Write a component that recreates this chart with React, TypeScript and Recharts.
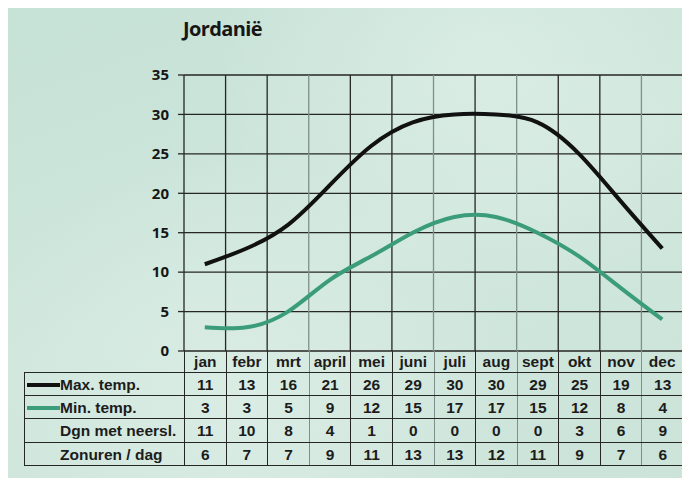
import React from 'react';
import { LineChart, Line, XAxis, YAxis, CartesianGrid, ReferenceLine } from 'recharts';

const title = 'Jordanië';
const months = ['jan', 'febr', 'mrt', 'april', 'mei', 'juni', 'juli', 'aug', 'sept', 'okt', 'nov', 'dec'];
const maxTemp = [11, 13, 16, 21, 26, 29, 30, 30, 29, 25, 19, 13];
const minTemp = [3, 3, 5, 9, 12, 15, 17, 17, 15, 12, 8, 4];
const rainDays = [11, 10, 8, 4, 1, 0, 0, 0, 0, 3, 6, 9];
const sunHours = [6, 7, 7, 9, 11, 13, 13, 12, 11, 9, 7, 6];
const yTicks = [0, 5, 10, 15, 20, 25, 30, 35];

const rowLabels = ['Max. temp.', 'Min. temp.', 'Dgn met neersl.', 'Zonuren / dag'];
const rowValues = [maxTemp, minTemp, rainDays, sunHours];

const BLACK = '#111111';
const GREEN = '#3b9c7c';
const GRID = '#262626';
const THIN = '#7f8f89';
const thinBoundaries = [3, 6, 8, 11];
const legendColors = [BLACK, GREEN, null, null];

const data = months.map((m, i) => ({ month: m, pos: i + 0.5, max: maxTemp[i], min: minTemp[i] }));
const boundaries = Array.from({ length: months.length + 1 }, (_, i) => i);

const W = 682;
const H = 470;
const PLOT_LEFT = 176;
const PLOT_RIGHT = 675;
const PLOT_TOP = 67;
const PLOT_BOTTOM = 343;
const COL_W = (PLOT_RIGHT - PLOT_LEFT) / months.length;
const TABLE_LEFT = 16;

const cellFont: React.CSSProperties = {
  fontFamily: '"Liberation Sans", Arial, sans-serif',
  fontWeight: 700,
  fontSize: 15.5,
  color: '#1c1c1c',
};

function bStyle(idx: number) {
  return `1.3px solid ${thinBoundaries.includes(idx) ? THIN : GRID}`;
}

function Table() {
  const rowH = [22, 23, 23, 24, 23];
  const tops: number[] = [];
  let acc = PLOT_BOTTOM;
  rowH.forEach((h) => {
    tops.push(acc);
    acc += h;
  });
  const cells: React.ReactNode[] = [];
  months.forEach((m, i) => {
    cells.push(
      <div
        key={`m${i}`}
        style={{
          position: 'absolute',
          left: PLOT_LEFT + i * COL_W,
          top: tops[0],
          width: COL_W,
          height: rowH[0],
          borderLeft: bStyle(i),
          borderRight: i === months.length - 1 ? bStyle(12) : undefined,
          boxSizing: 'border-box',
          display: 'flex',
          alignItems: 'center',
          justifyContent: 'center',
          ...cellFont,
        }}
      >
        {m}
      </div>
    );
  });
  rowLabels.forEach((label, r) => {
    const top = tops[r + 1];
    const h = rowH[r + 1];
    const lc = legendColors[r];
    cells.push(
      <div
        key={`l${r}`}
        style={{
          position: 'absolute',
          left: TABLE_LEFT,
          top,
          width: PLOT_LEFT - TABLE_LEFT,
          height: h,
          display: 'flex',
          alignItems: 'center',
          ...cellFont,
        }}
      >
        {lc ? (
          <div style={{ position: 'absolute', left: 3, width: 33, height: 4, background: lc, top: h / 2 - 2 }} />
        ) : null}
        <span style={{ position: 'absolute', left: 36 }}>{label}</span>
      </div>
    );
    rowValues[r].forEach((v, i) => {
      cells.push(
        <div
          key={`c${r}-${i}`}
          style={{
            position: 'absolute',
            left: PLOT_LEFT + i * COL_W,
            top,
            width: COL_W,
            height: h,
            borderLeft: bStyle(i),
            boxSizing: 'border-box',
            display: 'flex',
            alignItems: 'center',
            justifyContent: 'center',
            ...cellFont,
          }}
        >
          {v}
        </div>
      );
    });
  });
  const lines: React.ReactNode[] = [];
  for (let r = 1; r <= rowH.length; r++) {
    const y = r < rowH.length ? tops[r] : acc;
    lines.push(
      <div
        key={`h${r}`}
        style={{ position: 'absolute', left: TABLE_LEFT, top: y - 0.65, width: PLOT_RIGHT - TABLE_LEFT, height: 0, borderTop: `1.3px solid ${GRID}` }}
      />
    );
  }
  lines.push(
    <div key="vl" style={{ position: 'absolute', left: TABLE_LEFT, top: tops[1], height: acc - tops[1], width: 0, borderLeft: `1.3px solid ${GRID}` }} />
  );
  lines.push(
    <div key="vr" style={{ position: 'absolute', left: PLOT_RIGHT - 1.3, top: tops[1], height: acc - tops[1], width: 0, borderLeft: `1.3px solid ${GRID}` }} />
  );
  return (
    <>
      {cells}
      {lines}
    </>
  );
}

export default function App() {
  return (
    <div
      style={{
        position: 'relative',
        width: W,
        height: H,
        overflow: 'hidden',
        background:
          'radial-gradient(ellipse at 70% 12%, rgba(226,241,235,0.6) 0%, rgba(226,241,235,0) 40%), radial-gradient(ellipse at 35% 85%, rgba(226,241,235,0.6) 0%, rgba(226,241,235,0) 45%), linear-gradient(160deg, #c6e1d6 0%, #d0e7dd 50%, #cbe3d9 100%)',
      }}
    >
      <div
        style={{
          position: 'absolute',
          left: 175,
          top: 7,
          fontFamily: '"Open Sans", sans-serif',
          fontWeight: 700,
          fontSize: 20,
          letterSpacing: -0.6,
          color: '#161616',
        }}
      >
        {title}
      </div>
      <div style={{ position: 'absolute', left: 0, top: 0 }}>
        <LineChart
          width={W}
          height={H}
          data={data}
          margin={{ top: PLOT_TOP, right: W - PLOT_RIGHT, bottom: H - PLOT_BOTTOM, left: 0 }}
        >
          <CartesianGrid vertical={false} stroke={GRID} strokeWidth={1.3} />
          <XAxis dataKey="pos" type="number" domain={[0, months.length]} hide />
          <YAxis
            type="number"
            domain={[0, 35]}
            ticks={yTicks}
            interval={0}
            width={PLOT_LEFT}
            axisLine={false}
            tickLine={{ stroke: GRID, strokeWidth: 1.3 }}
            tickSize={6}
            tickMargin={9}
            tick={{ fill: '#161616', fontSize: 15, fontWeight: 700, fontFamily: '"Open Sans", sans-serif' }}
          />
          {boundaries.map((b) => (
            <ReferenceLine
              key={b}
              x={b}
              stroke={thinBoundaries.includes(b) ? THIN : GRID}
              strokeWidth={1.3}
            />
          ))}
          <Line
            type="natural"
            dataKey="max"
            stroke={BLACK}
            strokeWidth={4}
            dot={false}
            isAnimationActive={false}
          />
          <Line
            type="natural"
            dataKey="min"
            stroke={GREEN}
            strokeWidth={4}
            dot={false}
            isAnimationActive={false}
          />
        </LineChart>
      </div>
      <Table />
    </div>
  );
}
